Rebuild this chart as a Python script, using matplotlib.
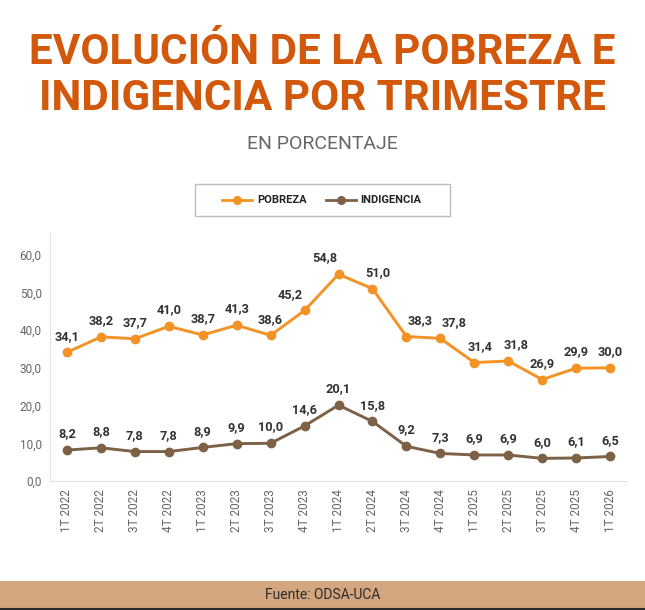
import matplotlib
matplotlib.use("Agg")
import matplotlib.pyplot as plt
from matplotlib import font_manager
from matplotlib.lines import Line2D
from matplotlib.patches import Rectangle

# data
periodos = ["1T 2022", "2T 2022", "3T 2022", "4T 2022",
            "1T 2023", "2T 2023", "3T 2023", "4T 2023",
            "1T 2024", "2T 2024", "3T 2024", "4T 2024",
            "1T 2025", "2T 2025", "3T 2025", "4T 2025", "1T 2026"]
pobreza = [34.1, 38.2, 37.7, 41.0, 38.7, 41.3, 38.6, 45.2, 54.8,
           51.0, 38.3, 37.8, 31.4, 31.8, 26.9, 29.9, 30.0]
indigencia = [8.2, 8.8, 7.8, 7.8, 8.9, 9.9, 10.0, 14.6, 20.1,
              15.8, 9.2, 7.3, 6.9, 6.9, 6.0, 6.1, 6.5]
y_ticks = [0, 10, 20, 30, 40, 50, 60]

# horizontal nudges (in points) for some poverty labels
pob_dx = [0, 0, 0, 0, 0, 0, 0, -10, -10, 4, 10, 10, 4, 6, 0, 0, 0]

C_POB = "#F39325"
C_IND = "#7D6147"
C_TITLE = "#D2580C"
C_LBL = "#333333"

names = {f.name for f in font_manager.fontManager.ttflist}
title_font = "Liberation Sans Narrow" if "Liberation Sans Narrow" in names else "Roboto"
plt.rcParams["font.family"] = ["Roboto", "DejaVu Sans"]

fig = plt.figure(figsize=(6.45, 6.10), dpi=100)
W, H = 645, 610

# title, scaled to fit the width
t1 = fig.text(0.5, 1 - 52 / H, "EVOLUCIÓN DE LA POBREZA E", ha="center", va="center",
              fontsize=34, fontweight="bold", color=C_TITLE, family=title_font)
t2 = fig.text(0.5, 1 - 99 / H, "INDIGENCIA POR TRIMESTRE", ha="center", va="center",
              fontsize=34, fontweight="bold", color=C_TITLE, family=title_font)
fig.canvas.draw()
r = fig.canvas.get_renderer()
w1 = t1.get_window_extent(r).width
scale = 588 / w1
t1.set_fontsize(34 * scale)
t2.set_fontsize(34 * scale)

fig.text(0.5, 1 - 144 / H, "EN PORCENTAJE", ha="center", va="center",
         fontsize=14, color="#666666")

# legend box
fig.patches.append(Rectangle((195 / W, 1 - 216 / H), 255 / W, 32 / H,
                             transform=fig.transFigure, fill=False,
                             edgecolor="#BDBDBD", linewidth=1))
ly = 1 - 200 / H
for x0, x1, tx, col, name in [(222, 252, 257, C_POB, "POBREZA"),
                              (326, 356, 360, C_IND, "INDIGENCIA")]:
    fig.lines.append(Line2D([x0 / W, x1 / W], [ly, ly], transform=fig.transFigure,
                            color=col, linewidth=2))
    fig.lines.append(Line2D([(x0 + x1) / 2 / W], [ly], transform=fig.transFigure,
                            color=col, marker="o", markersize=5.5))
    fig.text(tx / W, ly, name, ha="left", va="center", fontsize=8,
             fontweight="bold", color="#222222")

# main chart
ax = fig.add_axes([50 / W, 1 - 481 / H, 577 / W, 249 / H])
x = list(range(len(periodos)))
ax.plot(x, pobreza, color=C_POB, linewidth=2.1, marker="o", markersize=6, zorder=3)
ax.plot(x, indigencia, color=C_IND, linewidth=2.1, marker="o", markersize=6, zorder=3)

for i, v in enumerate(pobreza):
    ax.annotate(f"{v:.1f}".replace(".", ","), (i, v), xytext=(pob_dx[i], 7),
                textcoords="offset points", ha="center", va="bottom",
                fontsize=9.2, fontweight="bold", color=C_LBL)
for i, v in enumerate(indigencia):
    ax.annotate(f"{v:.1f}".replace(".", ","), (i, v), xytext=(0, 7),
                textcoords="offset points", ha="center", va="bottom",
                fontsize=9.2, fontweight="bold", color=C_LBL)

ax.set_xlim(-0.5, len(periodos) - 0.5)
ax.set_ylim(0, 66)
ax.set_yticks(y_ticks)
ax.set_yticklabels([f"{v:.1f}".replace(".", ",") for v in y_ticks])
ax.set_xticks(x)
ax.set_xticklabels(periodos, rotation=90)
ax.tick_params(length=0, labelsize=8.5, labelcolor="#666666", pad=6)
for s in ["top", "right"]:
    ax.spines[s].set_visible(False)
for s in ["left", "bottom"]:
    ax.spines[s].set_color("#E3E3E3")

# footer band
fig.patches.append(Rectangle((0, 0), 1, 29 / H, transform=fig.transFigure,
                             facecolor="#D3A680", edgecolor="none"))
fig.lines.append(Line2D([0, 1], [1.5 / H, 1.5 / H], transform=fig.transFigure,
                        color="#2A2A2A", linewidth=1.5))
fig.text(0.5, 15 / H, "Fuente: ODSA-UCA", ha="center", va="center",
         fontsize=10, color="#2A2A2A")

fig.savefig("out.png", dpi=100)
